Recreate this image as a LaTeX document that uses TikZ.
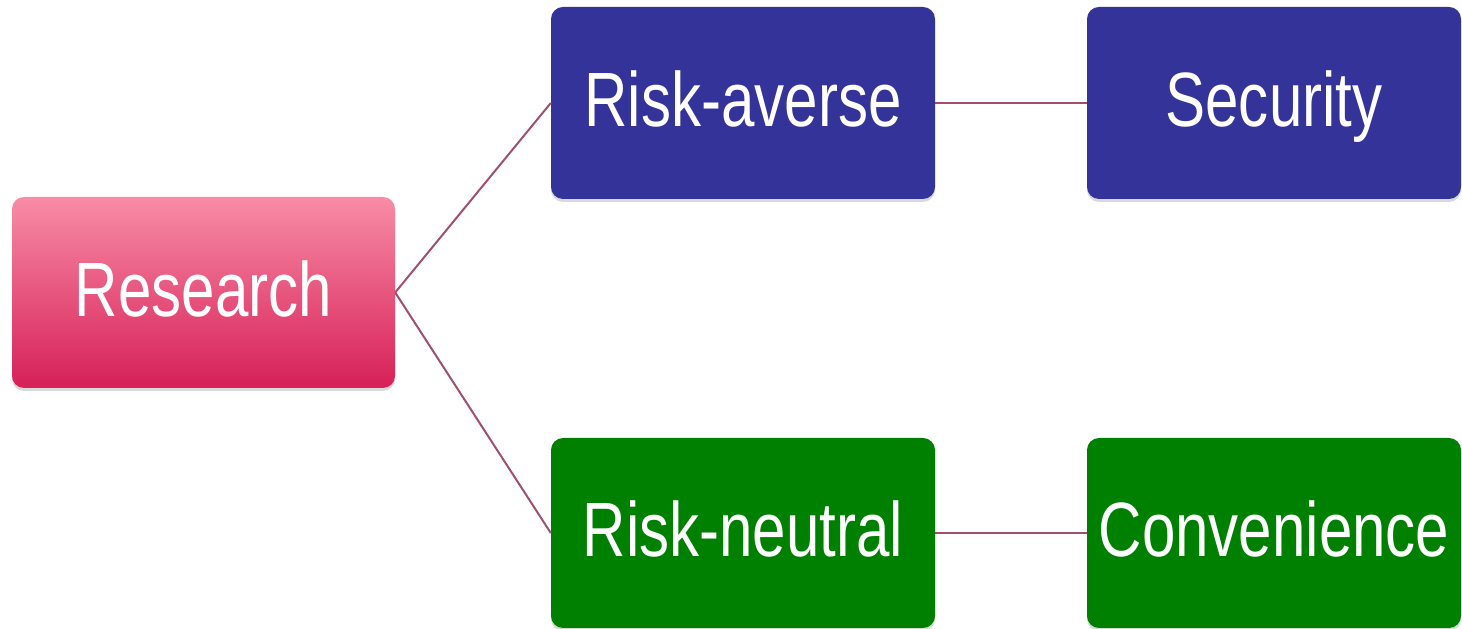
\documentclass[tikz,border=0pt]{standalone}
\usepackage{fontspec}
\setmainfont{Liberation Sans}[FakeStretch=0.78]
\usetikzlibrary{shadows}
\definecolor{boxblue}{RGB}{51,51,153}
\definecolor{boxgreen}{RGB}{0,128,0}
\definecolor{pinktop}{RGB}{248,140,166}
\definecolor{pinkbot}{RGB}{214,32,88}
\definecolor{linkcol}{RGB}{160,80,110}
\tikzset{
  box/.style={rectangle, rounded corners=12pt, text=white, inner sep=0pt,
    font=\fontsize{77}{80}\selectfont, text height=52pt, text depth=4pt,
    drop shadow={opacity=0.3, shadow xshift=0pt, shadow yshift=-3pt}},
  bluebox/.style={box, fill=boxblue},
  greenbox/.style={box, fill=boxgreen},
  pinkbox/.style={box, top color=pinktop, bottom color=pinkbot},
  link/.style={draw=linkcol, line width=2pt}
}
\begin{document}
\begin{tikzpicture}[x=1pt,y=1pt]
\useasboundingbox (0,0) rectangle (1462,629);
\node[pinkbox, minimum width=383pt, minimum height=191pt] (res) at (203.5,336.5) {Research};
\node[bluebox, minimum width=384pt, minimum height=192pt] (ra) at (743,526) {Risk-averse};
\node[bluebox, minimum width=374pt, minimum height=192pt] (sec) at (1274,526) {Security};
\node[greenbox, minimum width=384pt, minimum height=190pt] (rn) at (743,96) {Risk-neutral};
\node[greenbox, minimum width=374pt, minimum height=190pt] (con) at (1274,96) {Convenience};
\draw[link] (res.east) -- (ra.west);
\draw[link] (res.east) -- (rn.west);
\draw[link] (ra.east) -- (sec.west);
\draw[link] (rn.east) -- (con.west);
\end{tikzpicture}
\end{document}
